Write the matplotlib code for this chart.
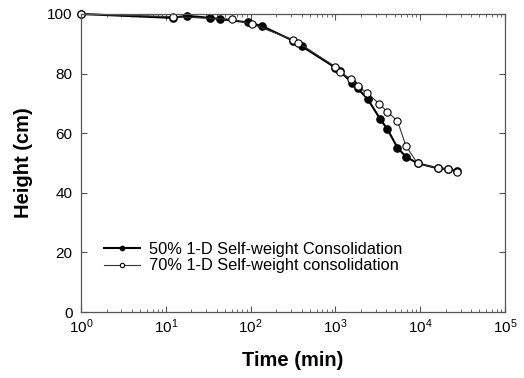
import matplotlib.pyplot as plt

plt.rcParams['font.family'] = 'Liberation Sans'
plt.rcParams['mathtext.default'] = 'regular'

# 50% solids
t50 = [1, 12, 17.8, 33, 44, 92, 135, 320, 400, 1000, 1130, 1590, 1830, 2400,
       3380, 4100, 5400, 6800, 9300, 16300, 21500, 27300]
h50 = [100, 98.7, 99.4, 98.7, 98.3, 97.2, 96.0, 91.0, 89.2, 82.0, 80.8, 76.8,
       75.0, 71.5, 64.7, 61.4, 55.1, 52.1, 49.9, 48.2, 48.0, 47.2]

# 70% solids
t70 = [1, 12, 60, 104, 318, 364, 1000, 1130, 1515, 1830, 2390, 3300, 4100,
       5400, 6800, 9300, 16300, 21500, 27300]
h70 = [100, 99.1, 98.2, 96.6, 91.3, 90.4, 82.3, 80.5, 78.2, 75.8, 73.4, 69.8,
       67.2, 64.1, 55.7, 49.9, 48.2, 48.0, 47.1]

fig = plt.figure(figsize=(5.24, 3.78), dpi=100)
ax = fig.add_axes([0.1546, 0.1746, 0.8091, 0.7884])

ax.plot(t50, h50, '-o', color='black', lw=1.5, ms=5.2, mfc='black', mec='black',
        label='50% 1-D Self-weight Consolidation', clip_on=False)
ax.plot(t70, h70, '-o', color='#333333', lw=0.8, ms=5.2, mfc='white', mec='black',
        mew=0.8, label='70% 1-D Self-weight consolidation', clip_on=False)

ax.set_xscale('log')
ax.set_xlim(1, 1e5)
ax.set_ylim(0, 100)
ax.set_yticks([0, 20, 40, 60, 80, 100])
ax.set_xticks([1, 10, 100, 1000, 10000, 100000])
ax.set_xticklabels(['$10^{0}$', '$10^{1}$', '$10^{2}$', '$10^{3}$', '$10^{4}$', '$10^{5}$'])

for s in ax.spines.values():
    s.set_color('#555555')
    s.set_linewidth(0.9)
ax.tick_params(which='both', direction='in', top=True, right=True,
               colors='#555555', labelcolor='black', labelsize=11)
ax.tick_params(which='major', length=4)
ax.tick_params(which='minor', length=2.5)
ax.tick_params(axis='x', which='major', pad=4)
ax.tick_params(axis='y', which='major', pad=6)

ax.set_xlabel('Time (min)', fontsize=14.5, fontweight='bold', labelpad=11)
ax.set_ylabel('Height (cm)', fontsize=14.5, fontweight='bold', labelpad=10)

ax.legend(loc='lower left', bbox_to_anchor=(0.02, 0.08), frameon=False,
          fontsize=11.8, handlelength=2.2, markerscale=0.6, labelspacing=0.1,
          handletextpad=0.55)

fig.savefig('out.png', dpi=100)
